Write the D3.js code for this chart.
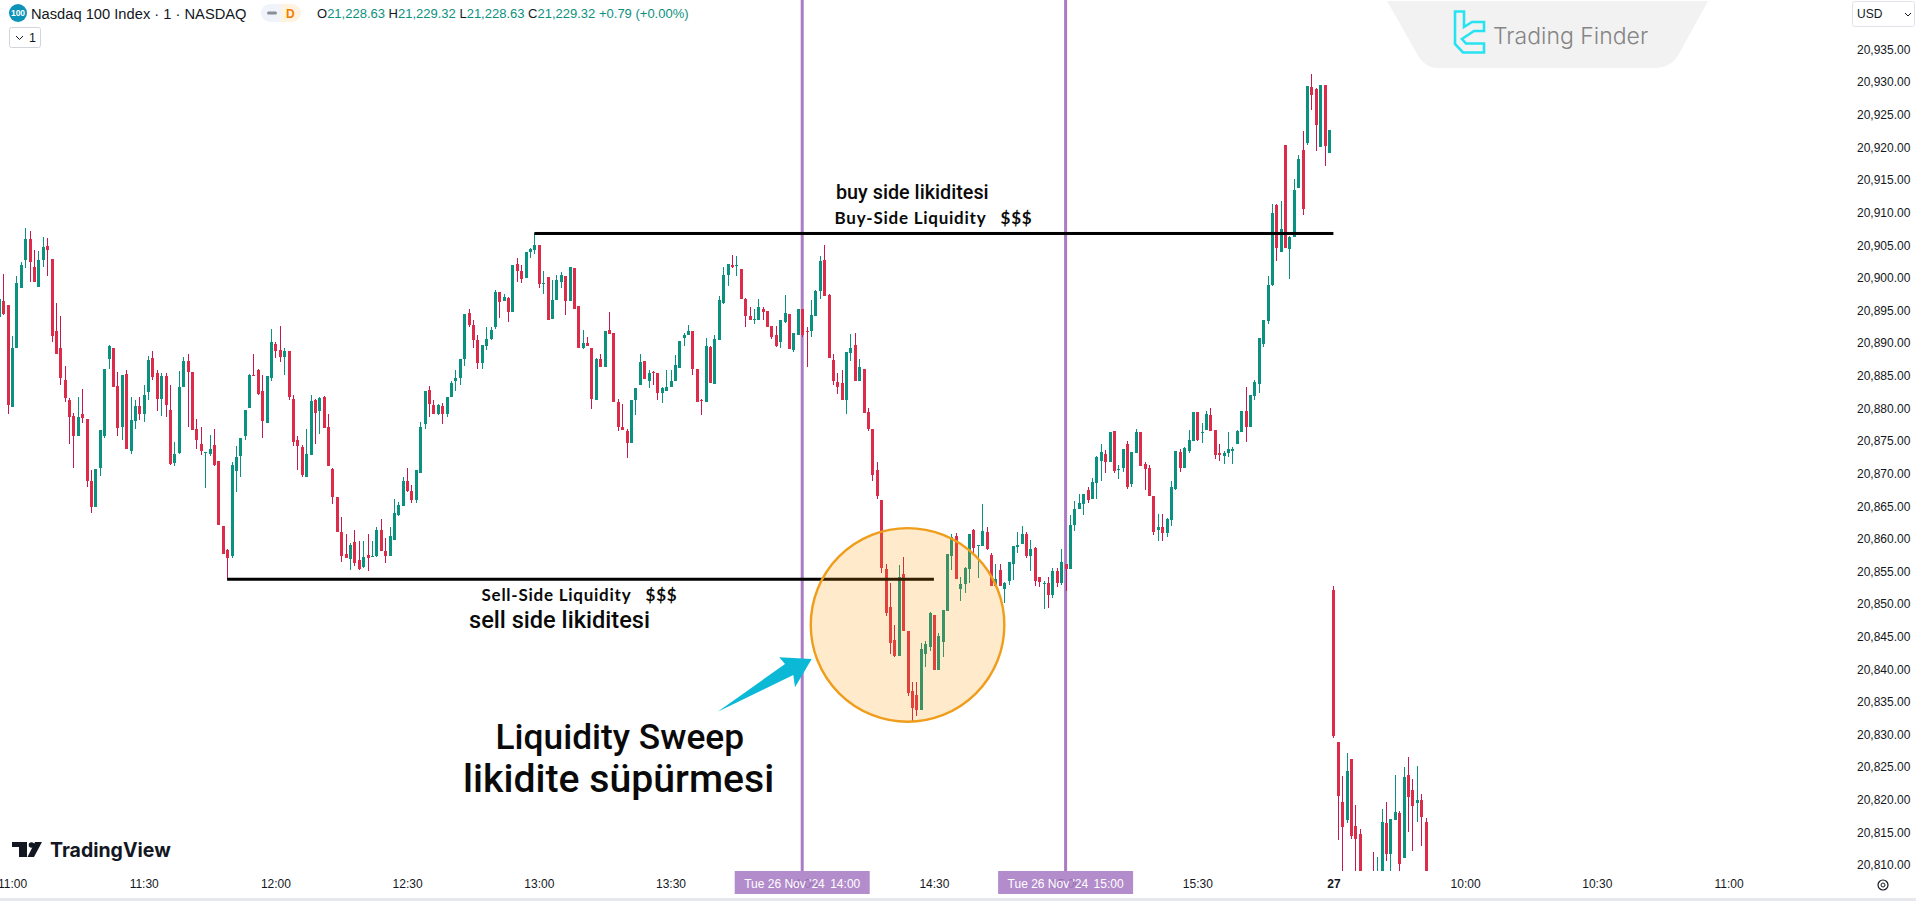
<!DOCTYPE html>
<html>
<head>
<meta charset="utf-8">
<title>Nasdaq 100 Index - Liquidity Sweep</title>
<script src="https://cdn.jsdelivr.net/npm/d3@7"></script>
<style>
  html, body { margin: 0; padding: 0; background: #fff; overflow: hidden; }
  svg { display: block; }
  text { font-family: "Liberation Sans", Arial, sans-serif; }
</style>
</head>
<body>
<section></section>
<script>
// every row is [open, high, low, close], one row per 1 minute candle
var beforeEleven = [
  [20894.0,20897.6,20893.5,20896.8],[20896.5,20900.6,20894.3,20894.4],[20895.8,20895.9,20879.2,20880.5]
];
var hour11 = [
  [20880.2,20891.1,20880.2,20889.2],[20889.3,20900.3,20889.3,20899.2],[20898.4,20902.5,20898.4,20901.9],[20902.7,20907.7,20901.5,20905.9],[20906.0,20907.2,20899.4,20902.5],
  [20901.6,20904.3,20899.3,20899.3],[20898.6,20904.1,20898.6,20902.7],[20902.7,20906.2,20901.7,20904.7],[20904.9,20906.1,20900.3,20904.2],[20902.9,20902.9,20890.1,20891.1],
  [20891.8,20896.1,20888.3,20888.3],[20889.2,20894.2,20883.6,20884.7],[20884.3,20886.5,20880.9,20881.6],[20881.2,20881.6,20874.5,20878.7],[20878.8,20879.3,20870.9,20875.8],
  [20875.8,20881.8,20875.8,20878.7],[20879.2,20883.0,20877.7,20878.5],[20878.3,20878.3,20868.0,20868.8],[20868.9,20870.5,20864.0,20864.9],[20864.8,20870.7,20864.8,20870.7],
  [20870.9,20876.7,20869.6,20876.7],[20875.8,20886.1,20875.4,20886.0],[20887.6,20889.7,20886.0,20889.5],[20889.3,20889.3,20883.3,20883.3],[20883.4,20885.5,20875.7,20877.0],
  [20877.2,20885.1,20875.1,20885.1],[20885.3,20885.9,20873.7,20873.7],[20873.5,20881.8,20873.0,20878.2],[20878.0,20881.3,20876.9,20880.4],[20880.4,20881.8,20878.2,20879.1],
  [20879.2,20883.6,20877.9,20882.0],[20882.5,20888.0,20881.3,20887.4],[20887.7,20888.8,20884.3,20884.8],[20885.4,20885.9,20879.6,20881.4],[20881.4,20885.4,20878.8,20885.0],
  [20885.0,20885.4,20878.6,20880.5],[20879.8,20883.6,20871.3,20871.5],[20871.6,20874.8,20871.2,20873.0],[20873.1,20885.7,20873.0,20883.2],[20883.2,20887.8,20883.2,20887.3],
  [20887.3,20888.3,20877.2,20885.5],[20885.5,20885.5,20876.7,20876.7],[20876.8,20878.3,20873.8,20875.1],[20874.6,20877.1,20872.9,20873.4],[20873.2,20873.3,20867.8,20873.3],
  [20873.0,20875.9,20872.7,20873.8],[20874.4,20876.9,20871.1,20871.3],[20871.9,20872.0,20862.1,20862.1],[20862.0,20862.0,20857.7,20857.7],[20858.3,20858.4,20853.8,20857.1],
  [20857.3,20871.8,20857.1,20871.3],[20870.4,20874.2,20867.1,20872.5],[20872.7,20875.4,20869.5,20875.4],[20875.8,20879.7,20875.2,20879.7],[20880.0,20885.2,20880.0,20885.1],
  [20885.1,20888.4,20885.0,20885.0],[20885.8,20886.1,20882.0,20882.2],[20882.7,20885.1,20875.4,20878.0],[20877.7,20885.0,20877.7,20885.0],[20884.6,20892.2,20884.2,20890.1]
];
var hour12 = [
  [20889.9,20890.2,20887.7,20888.8],[20889.0,20892.6,20887.1,20887.8],[20887.8,20889.2,20885.1,20888.8],[20888.8,20888.8,20881.3,20881.8],[20881.4,20882.0,20874.3,20874.8],
  [20875.1,20875.7,20870.5,20874.3],[20874.0,20874.4,20869.4,20869.8],[20869.5,20876.8,20869.5,20873.0],[20872.9,20882.0,20872.9,20881.1],[20881.3,20881.4,20874.5,20879.3],
  [20879.6,20881.8,20876.1,20881.6],[20881.8,20881.9,20877.0,20877.0],[20877.1,20879.1,20871.2,20871.2],[20870.7,20870.8,20865.4,20866.4],[20866.4,20866.4,20861.1,20861.1],
  [20861.0,20863.3,20856.5,20857.4],[20857.6,20860.7,20857.0,20857.0],[20856.9,20859.4,20855.2,20859.0],[20859.5,20861.3,20855.8,20856.3],[20856.7,20859.6,20855.2,20855.3],
  [20855.7,20859.7,20855.6,20857.2],[20857.5,20860.8,20855.0,20857.0],[20857.3,20859.6,20857.3,20857.4],[20857.4,20861.8,20857.2,20861.3],[20861.3,20863.0,20858.2,20858.2],
  [20858.1,20860.1,20856.3,20857.4],[20857.3,20861.8,20857.3,20860.4],[20859.8,20866.1,20859.8,20863.9],[20863.6,20865.6,20863.5,20865.2],[20865.0,20869.5,20865.0,20868.8],
  [20868.9,20870.8,20867.1,20867.4],[20867.3,20868.2,20865.5,20865.9],[20865.9,20870.5,20865.5,20870.5],[20870.1,20877.9,20870.1,20877.2],[20877.6,20882.7,20876.9,20882.7],
  [20882.8,20883.4,20878.6,20880.7],[20880.5,20881.3,20879.1,20879.2],[20879.1,20880.6,20879.0,20880.5],[20880.4,20880.8,20877.6,20879.2],[20879.1,20881.8,20878.6,20881.8],
  [20881.8,20884.2,20881.8,20883.9],[20884.2,20885.9,20882.7,20884.7],[20884.6,20887.6,20883.6,20887.6],[20887.6,20894.5,20886.5,20894.5],[20894.6,20895.3,20892.5,20892.8],
  [20892.8,20893.6,20889.3,20890.4],[20890.5,20891.2,20886.1,20887.0],[20887.0,20889.7,20886.1,20889.7],[20889.6,20892.5,20889.0,20890.6],[20890.6,20892.5,20890.5,20892.0],
  [20892.4,20898.1,20892.2,20897.9],[20897.9,20897.9,20893.9,20896.3],[20896.5,20897.5,20896.5,20897.0],[20896.9,20897.1,20893.3,20894.8],[20894.8,20902.0,20894.8,20902.0],
  [20902.1,20903.0,20899.4,20901.0],[20901.1,20902.0,20899.2,20899.8],[20900.0,20904.0,20900.0,20903.9],[20903.9,20904.5,20903.1,20904.4],[20904.2,20906.8,20903.7,20905.0]
];
var hour13 = [
  [20905.0,20905.0,20898.4,20899.0],[20899.1,20901.1,20897.5,20899.2],[20900.1,20900.1,20893.6,20893.6],[20893.7,20899.7,20893.7,20896.6],[20896.6,20900.4,20896.6,20899.7],
  [20899.4,20900.9,20898.4,20900.4],[20900.3,20900.3,20894.3,20896.4],[20896.4,20901.6,20896.4,20901.6],[20901.5,20901.5,20895.2,20895.2],[20895.7,20895.7,20889.3,20889.3],
  [20889.3,20892.0,20889.1,20890.0],[20890.0,20891.0,20889.6,20889.6],[20889.2,20889.2,20879.9,20881.4],[20881.2,20887.7,20881.2,20887.6],[20887.6,20888.3,20886.4,20886.4],
  [20886.4,20891.9,20886.4,20891.9],[20892.0,20894.7,20891.4,20891.4],[20891.6,20891.6,20880.9,20880.9],[20880.9,20881.5,20876.6,20877.1],[20877.2,20880.7,20876.7,20876.7],
  [20876.5,20876.9,20872.4,20874.7],[20874.7,20881.3,20874.7,20881.2],[20881.2,20883.1,20879.0,20883.1],[20883.5,20888.4,20883.5,20887.1],[20887.2,20887.2,20884.5,20884.5],
  [20884.2,20885.9,20883.1,20885.4],[20885.6,20885.7,20883.5,20885.5],[20885.4,20885.4,20881.3,20882.4],[20882.4,20883.3,20880.8,20883.1],[20882.7,20885.9,20882.6,20883.2],
  [20883.3,20885.9,20883.3,20884.2],[20884.2,20888.2,20884.2,20886.6],[20886.2,20890.3,20886.2,20890.3],[20890.8,20891.6,20889.5,20891.3],[20891.3,20892.8,20891.2,20891.8],
  [20891.8,20891.8,20885.1,20886.0],[20886.0,20886.1,20880.9,20880.9],[20881.2,20881.4,20879.0,20881.1],[20881.0,20890.8,20881.0,20889.5],[20889.4,20889.6,20883.9,20883.9],
  [20883.8,20891.2,20883.7,20890.6],[20890.4,20897.2,20890.4,20896.6],[20896.1,20901.7,20896.0,20900.5],[20900.4,20902.1,20898.8,20902.1],[20901.9,20903.5,20901.5,20901.6],
  [20901.9,20903.4,20900.3,20902.0],[20901.3,20901.3,20896.7,20896.7],[20896.7,20896.9,20892.5,20894.2],[20894.1,20895.5,20893.6,20893.6],[20893.6,20895.3,20892.9,20893.7],
  [20893.6,20896.7,20893.6,20895.5],[20895.3,20895.5,20893.6,20894.7],[20894.9,20894.9,20892.4,20892.5],[20892.6,20892.6,20890.7,20891.0],[20891.2,20892.6,20889.4,20889.5],
  [20890.1,20893.5,20889.3,20893.5],[20893.2,20897.4,20893.1,20894.6],[20894.4,20894.4,20889.1,20889.1],[20889.0,20891.6,20888.7,20891.5],[20891.3,20895.2,20891.3,20895.2]
];
var hour14 = [
  [20895.2,20895.2,20890.9,20891.2],[20891.9,20892.4,20886.4,20891.8],[20891.8,20896.6,20891.0,20894.3],[20894.1,20898.1,20894.1,20898.0],[20898.0,20903.4,20896.7,20902.6],
  [20902.7,20905.0,20897.2,20897.2],[20897.4,20897.5,20887.7,20887.7],[20887.4,20888.4,20883.5,20884.2],[20884.1,20885.4,20882.2,20883.3],[20883.9,20885.9,20881.2,20881.2],
  [20881.3,20888.7,20879.2,20888.7],[20888.5,20891.4,20887.3,20889.2],[20889.7,20891.5,20884.2,20884.2],[20884.2,20887.5,20884.2,20886.3],[20886.1,20886.1,20879.3,20879.3],
  [20879.5,20880.0,20876.6,20876.8],[20876.9,20876.9,20868.9,20869.8],[20870.6,20871.7,20866.1,20866.6],[20866.0,20866.0,20854.7,20855.6],[20855.4,20856.1,20848.2,20848.6],
  [20849.5,20853.2,20842.4,20844.1],[20844.5,20846.8,20841.9,20842.1],[20842.1,20856.0,20842.1,20854.1],[20854.6,20857.2,20845.8,20845.8],[20845.9,20845.9,20835.9,20836.4],
  [20836.7,20838.1,20832.1,20834.0],[20836.0,20838.1,20832.9,20833.8],[20833.8,20844.1,20833.8,20843.1],[20842.3,20844.3,20840.4,20843.9],[20843.4,20848.8,20842.8,20848.6],
  [20848.3,20848.3,20839.9,20839.9],[20839.9,20845.5,20839.9,20845.1],[20844.2,20849.1,20841.9,20849.1],[20848.9,20857.7,20848.9,20857.6],[20857.4,20860.8,20855.2,20860.2],
  [20860.4,20860.9,20853.9,20853.9],[20852.3,20854.2,20850.5,20853.0],[20853.1,20855.7,20851.7,20855.6],[20855.3,20860.8,20853.3,20860.8],[20861.3,20861.5,20857.8,20858.6],
  [20858.9,20859.1,20854.0,20859.0],[20858.9,20865.4,20858.9,20861.2],[20861.1,20861.8,20858.3,20858.5],[20857.5,20857.9,20852.7,20852.7],[20852.7,20856.1,20852.7,20853.9],
  [20855.2,20856.2,20852.8,20852.8],[20852.3,20853.4,20850.2,20853.3],[20853.5,20856.5,20852.9,20856.5],[20856.2,20858.9,20853.7,20858.9],[20858.8,20861.0,20857.9,20859.1],
  [20859.2,20862.0,20859.2,20860.7],[20860.7,20861.1,20857.1,20857.3],[20857.4,20859.8,20855.1,20858.5],[20858.6,20858.7,20852.7,20853.5],[20854.1,20854.2,20852.6,20853.4],
  [20853.1,20853.5,20849.3,20853.3],[20853.3,20854.2,20849.4,20851.4],[20851.4,20855.5,20851.0,20855.0],[20855.0,20855.5,20852.6,20853.3],[20853.2,20858.4,20852.9,20856.5]
];
var hour15 = [
  [20856.1,20856.1,20852.0,20855.4],[20855.4,20863.7,20855.4,20862.1],[20862.1,20865.8,20861.2,20864.5],[20864.6,20866.8,20864.6,20865.5],[20865.3,20866.9,20863.6,20866.8],
  [20867.5,20867.9,20865.5,20866.0],[20866.1,20869.3,20866.1,20868.7],[20868.5,20872.7,20866.1,20872.6],[20871.9,20874.6,20868.9,20873.3],[20873.0,20873.6,20870.1,20871.7],
  [20871.7,20876.4,20871.7,20876.4],[20876.5,20876.5,20870.1,20870.4],[20870.6,20871.3,20869.1,20870.7],[20870.9,20873.8,20870.3,20873.8],[20874.5,20875.0,20867.6,20868.0],
  [20868.4,20873.3,20868.0,20873.3],[20873.2,20876.8,20873.2,20876.4],[20876.4,20876.4,20871.2,20871.2],[20871.5,20871.8,20867.5,20870.7],[20870.8,20871.3,20866.5,20866.5],
  [20866.6,20866.6,20860.6,20861.0],[20861.3,20863.8,20859.7,20861.8],[20861.8,20863.8,20859.7,20860.9],[20860.9,20863.2,20860.2,20863.0],[20862.9,20868.9,20862.0,20867.9],
  [20867.6,20873.5,20867.5,20873.5],[20873.3,20873.8,20870.3,20870.8],[20870.8,20874.0,20870.8,20873.9],[20873.5,20876.7,20873.2,20875.1],[20875.0,20879.4,20875.0,20879.4],
  [20879.4,20879.4,20875.0,20875.1],[20876.3,20877.8,20874.7,20876.4],[20876.7,20879.6,20876.7,20879.1],[20879.0,20880.1,20876.6,20876.6],[20876.7,20876.7,20872.2,20872.8],
  [20873.2,20874.6,20872.0,20872.9],[20872.7,20873.4,20871.4,20873.2],[20873.1,20876.4,20872.5,20873.8],[20873.5,20874.1,20871.4,20873.8],[20874.5,20876.7,20874.5,20876.6],
  [20876.3,20879.6,20876.3,20879.6],[20879.6,20883.3,20874.8,20877.2],[20877.2,20882.0,20877.2,20882.0],[20881.9,20884.3,20881.2,20884.1],[20883.7,20890.8,20882.4,20890.8],
  [20889.9,20893.5,20889.4,20893.5],[20893.4,20900.3,20892.9,20898.9],[20898.9,20911.3,20898.8,20909.9],[20911.1,20911.3,20902.6,20904.6],[20903.9,20911.8,20903.9,20907.5],
  [20920.4,20920.4,20904.6,20904.6],[20904.4,20906.4,20899.8,20906.3],[20906.2,20915.2,20906.2,20913.5],[20913.8,20918.8,20913.8,20918.2],[20919.6,20922.5,20909.6,20910.5],
  [20920.7,20929.4,20920.3,20929.4],[20929.3,20931.2,20925.7,20928.1],[20929.0,20929.1,20919.5,20923.5],[20920.1,20929.6,20920.1,20929.6],[20929.6,20929.6,20917.2,20920.2],
  [20919.2,20922.7,20919.2,20922.7]
];
var day27 = [
  [20852.2,20852.8,20829.5,20829.7],[20828.8,20828.8,20813.8,20820.5],[20819.6,20823.6,20808.5,20815.9],[20816.9,20827.2,20816.5,20824.4],[20826.2,20826.2,20814.0,20814.4],
  [20816.0,20819.2,20808.0,20814.0],[20814.8,20815.5,20806.5,20808.5],[20808.6,20808.9,20805.0,20806.8],[20805.5,20808.8,20804.5,20807.5],[20808.7,20812.0,20805.2,20806.4],
  [20805.9,20811.2,20805.0,20808.5],[20808.2,20818.6,20807.5,20816.6],[20816.4,20819.6,20810.6,20811.7],[20811.7,20817.0,20808.5,20817.0],[20816.9,20823.8,20816.9,20818.1],
  [20818.0,20818.3,20808.6,20810.2],[20811.0,20825.0,20811.0,20823.5],[20823.8,20826.5,20815.0,20820.4],[20821.5,20823.2,20812.1,20819.0],[20819.5,20825.2,20816.6,20819.9],
  [20819.9,20820.9,20812.9,20817.4],[20816.6,20817.2,20807.5,20808.5]
];

var priceTicks = d3.range(20810, 20936, 5);
var timeTickBars = [0, 30, 60, 90, 120, 150, 180, 210, 240, 270, 301, 331, 361, 391];
var timeTickLabels = ['11:00', '11:30', '12:00', '12:30', '13:00', '13:30', '14:00', '14:30', '15:00', '15:30', '27', '10:00', '10:30', '11:00'];

var markerBars = [180, 240];
var markerDates = ["Tue 26 Nov '24", "Tue 26 Nov '24"];
var markerTimes = ['14:00', '15:00'];

// the two liquidity levels: price, first bar, last bar
var levelPrices = [20906.8, 20853.8];
var levelFrom = [119, 49];
var levelTo = [301, 210];

var legendParts = [['O', 0], ['21,228.63', 1], [' H', 0], ['21,229.32', 1], [' L', 0], ['21,228.63', 1], [' C', 0], ['21,229.32', 1], [' +0.79 (+0.00%)', 1]];

var W = 1916, H = 901, PLOT_BOTTOM = 871;
var GREEN = '#0b9180', RED = '#dd2c4a', RED_WICK = '#c4184f', PURPLE = '#a97cc4', INK = '#131722';

var bars = [].concat(beforeEleven, hour11, hour12, hour13, hour14, hour15, day27).map(function(r, k) {
  return {i: k - beforeEleven.length, o: r[0], h: r[1], l: r[2], c: r[3]};
});

var x = d3.scaleLinear().domain([0, 300]).range([12, 1329]);
var y = d3.scaleLinear().domain([20935, 20810]).range([49.5, 865]);

var svg = d3.select('section').append('svg').attr('width', W).attr('height', H);
svg.append('rect').attr('width', W).attr('height', H).attr('fill', '#fff');
svg.append('defs').append('clipPath').attr('id', 'plot').append('rect').attr('width', 1850).attr('height', PLOT_BOTTOM);

// trading finder badge
svg.append('path')
  .attr('d', 'M1387,1 H1708 L1680,52 Q1672,68 1655,68 H1438 Q1424,68 1416,52 Z')
  .attr('fill', '#f2f2f2');
svg.append('path')
  .attr('d', 'M1455,11.5 H1464 V27 L1472,22 H1484 V31 H1474 L1462,39 L1466,43.5 H1484 V52.5 H1463 L1455,44 V30 Z')
  .attr('fill', 'none').attr('stroke', '#27e3f1').attr('stroke-width', 2.6);
svg.append('text').attr('x', 1493).attr('y', 43.5).text('Trading Finder')
  .style('font-family', 'Inter').style('font-size', '23px').style('font-weight', 300)
  .attr('fill', '#858585');

// vertical time markers go under the candles
svg.append('g').selectAll('rect').data(markerBars).enter().append('rect')
  .attr('x', function(d) { return x(d) - 1.5; }).attr('y', 0)
  .attr('width', 3).attr('height', PLOT_BOTTOM).attr('fill', PURPLE);

var candles = svg.append('g').attr('clip-path', 'url(#plot)').attr('shape-rendering', 'crispEdges');
candles.selectAll('.wick').data(bars).enter().append('rect').attr('class', 'wick')
  .attr('x', function(d) { return Math.round(x(d.i)); })
  .attr('y', function(d) { return y(d.h); })
  .attr('width', 1)
  .attr('height', function(d) { return y(d.l) - y(d.h); })
  .attr('fill', function(d) { return d.c >= d.o ? GREEN : RED_WICK; });
candles.selectAll('.body').data(bars).enter().append('rect').attr('class', 'body')
  .attr('x', function(d) { return Math.round(x(d.i)) - 1; })
  .attr('y', function(d) { return y(Math.max(d.o, d.c)); })
  .attr('width', 3)
  .attr('height', function(d) { return Math.max(1, Math.abs(y(d.o) - y(d.c))); })
  .attr('fill', function(d) { return d.c >= d.o ? GREEN : RED; });

// liquidity levels
svg.append('g').selectAll('rect').data(levelPrices).enter().append('rect')
  .attr('x', function(d, k) { return x(levelFrom[k]); })
  .attr('y', function(d) { return y(d) - 1.5; })
  .attr('width', function(d, k) { return x(levelTo[k]) - x(levelFrom[k]); })
  .attr('height', 3).attr('fill', '#000');

// sweep circle and arrow
svg.append('circle')
  .attr('cx', x(204)).attr('cy', y(20846.8)).attr('r', 96.8)
  .attr('fill', '#ff9800').attr('fill-opacity', 0.2)
  .attr('stroke', '#ef9d1a').attr('stroke-width', 2.4);
svg.append('path')
  .attr('d', 'M717.7,711.7 L785,664 L779.3,657.3 L811.7,659 L795,687.3 L793.3,675 Z')
  .attr('fill', '#0bb9d6');

function label(txt, px, py, size, family, weight, spacing) {
  return svg.append('text').attr('x', px).attr('y', py).text(txt)
    .style('font-family', family).style('font-size', size + 'px').style('font-weight', weight)
    .style('letter-spacing', (spacing || 0) + 'px').style('white-space', 'pre').attr('fill', '#0a0a0a');
}
label('buy side likiditesi', 836, 199, 19.8, 'Roboto', 500);
label('Buy-Side Liquidity   $$$', 834.5, 224.3, 17, 'Lato', 700, 0.75);
label('Sell-Side Liquidity   $$$', 481.5, 600.7, 17, 'Lato', 700, 0.75);
label('sell side likiditesi', 469, 628, 23.6, 'Roboto', 500);
label('Liquidity Sweep', 495.5, 749, 35.3, 'Roboto', 500);
label('likidite süpürmesi', 463, 791.7, 39.2, 'Roboto', 500);

// price axis on the right
var yAxis = d3.axisRight(y).tickValues(priceTicks).tickSize(0).tickPadding(0).tickFormat(d3.format(',.2f'));
var yG = svg.append('g').attr('transform', 'translate(1857,0)').call(yAxis);
yG.select('.domain').remove();
yG.selectAll('text').style('font-size', '12px').attr('fill', INK);

// time axis
var xAxis = d3.axisBottom(x).tickValues(timeTickBars).tickSize(0).tickPadding(8)
  .tickFormat(function(d, k) { return timeTickLabels[k]; });
var xG = svg.append('g').attr('transform', 'translate(0,' + PLOT_BOTTOM + ')').call(xAxis);
xG.select('.domain').remove();
xG.selectAll('text').style('font-size', '12px').attr('fill', INK)
  .style('font-weight', function(d, k) { return timeTickLabels[k] === '27' ? 700 : 400; });

svg.append('rect').attr('y', 898).attr('width', W).attr('height', 3).attr('fill', '#e6e8ee');

// crosshair style labels on the time axis, the tick under them still shows a little
var marks = svg.append('g').selectAll('g').data(markerBars).enter().append('g')
  .attr('transform', function(d) { return 'translate(' + x(d) + ',' + PLOT_BOTTOM + ')'; });
marks.append('rect').attr('x', -67.5).attr('width', 135).attr('height', 23)
  .attr('fill', PURPLE).attr('fill-opacity', 0.88);
marks.append('text').attr('x', -58).attr('y', 17).attr('fill', '#fff').style('font-size', '12px')
  .text(function(d, k) { return markerDates[k]; });
marks.append('text').attr('x', 28).attr('y', 17).attr('fill', '#fff').style('font-size', '12px')
  .text(function(d, k) { return markerTimes[k]; });

// header legend
svg.append('circle').attr('cx', 18).attr('cy', 13).attr('r', 9).attr('fill', '#0d93b8');
svg.append('text').attr('x', 18).attr('y', 16).attr('text-anchor', 'middle').attr('fill', '#fff')
  .style('font-size', '8.5px').style('font-weight', 700).text('100');
svg.append('text').attr('x', 31).attr('y', 18.5).attr('fill', INK)
  .style('font-size', '14.7px').text('Nasdaq 100 Index · 1 · NASDAQ');
svg.append('path').attr('d', 'M270,4 H281 V22 H270 A9,9 0 0 1 270,4 Z').attr('fill', '#f0f3fa');
svg.append('path').attr('d', 'M281,4 H292 A9,9 0 0 1 292,22 H281 Z').attr('fill', '#fff3e0');
svg.append('rect').attr('x', 267).attr('y', 11.5).attr('width', 10).attr('height', 3).attr('rx', 1.5).attr('fill', '#8a8e99');
svg.append('text').attr('x', 286).attr('y', 18).attr('fill', '#f57c00').style('font-size', '12px').style('font-weight', 700).text('D');
var legend = svg.append('text').attr('x', 317).attr('y', 18).style('font-size', '13px').style('white-space', 'pre');
legend.selectAll('tspan').data(legendParts).enter().append('tspan')
  .text(function(d) { return d[0]; })
  .attr('fill', function(d) { return d[1] ? '#0b9180' : INK; });

// collapse button and currency box
svg.append('rect').attr('x', 9.5).attr('y', 27.5).attr('width', 31).attr('height', 20).attr('rx', 2)
  .attr('fill', '#fff').attr('stroke', '#d1d4dc');
svg.append('path').attr('d', 'M16,36 L19.5,39.5 L23,36').attr('fill', 'none').attr('stroke', INK).attr('stroke-width', 1);
svg.append('text').attr('x', 29).attr('y', 42).attr('fill', INK).style('font-size', '12.5px').text('1');
svg.append('rect').attr('x', 1852.5).attr('y', 1.5).attr('width', 62).attr('height', 25).attr('rx', 2)
  .attr('fill', '#fff').attr('stroke', '#e0e3eb');
svg.append('text').attr('x', 1857).attr('y', 18).attr('fill', INK).style('font-size', '12px').text('USD');
svg.append('path').attr('d', 'M1905,13 L1908,16 L1911,13').attr('fill', 'none').attr('stroke', INK).attr('stroke-width', 1);

// tradingview mark
svg.append('path')
  .attr('d', 'M12,842 H27 V857 H19 V847 H12 Z M35,842 H42 L34,857 H27.5 Z').attr('fill', INK);
svg.append('circle').attr('cx', 31.5).attr('cy', 845).attr('r', 2.8).attr('fill', INK);
svg.append('text').attr('x', 50).attr('y', 856.5).attr('fill', INK)
  .style('font-family', 'Inter').style('font-size', '19.5px').style('font-weight', 700).text('TradingView');

// gear icon
svg.append('circle').attr('cx', 1883).attr('cy', 885).attr('r', 2).attr('fill', 'none').attr('stroke', INK);
svg.append('circle').attr('cx', 1883).attr('cy', 885).attr('r', 5).attr('fill', 'none').attr('stroke', INK).attr('stroke-width', 1.2);
</script>
</body>
</html>
